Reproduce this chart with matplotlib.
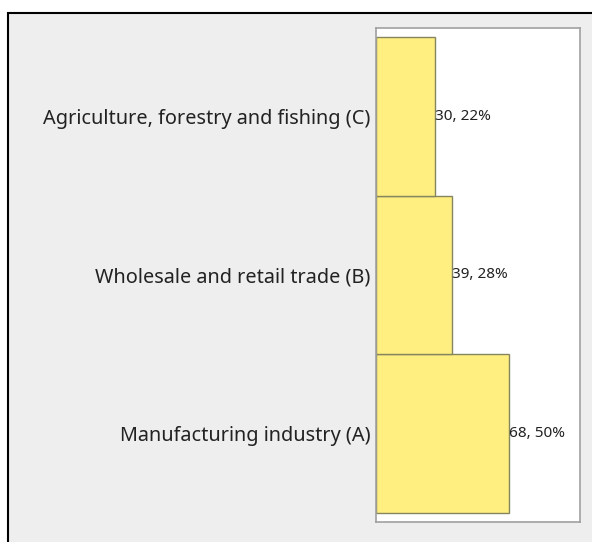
import matplotlib
matplotlib.use("Agg")
import matplotlib.pyplot as plt
from matplotlib.patches import Rectangle

categories = ["Manufacturing industry (A)", "Wholesale and retail trade (B)",
              "Agriculture, forestry and fishing (C)"]
values = [68, 39, 30]
percents = [50, 28, 22]

W, H = 592, 542
fig = plt.figure(figsize=(W / 100, H / 100), dpi=100, facecolor="white")

# gray panel with black border (top-left visible)
fig.patches.append(Rectangle((8 / W, -0.2), 1.5, 1 - 13 / H + 0.2,
                             transform=fig.transFigure, facecolor="#eeeeee",
                             edgecolor="black", linewidth=1.5, zorder=-10))

ax = fig.add_axes([376 / W, 1 - 522 / H, 204 / W, 494 / H])
ax.set_facecolor("white")
pos = list(range(len(categories)))
ax.barh(pos, values, height=1.0, color="#ffee80", edgecolor="#85855e",
        linewidth=1.0, zorder=2)
for p, v, pc in zip(pos, values, percents):
    ax.text(v, p, f"{v}, {pc}%", va="center", ha="left", fontsize=11,
            family="Noto Sans", color="#222222")
ax.set_xlim(0, 104.6)
ax.set_ylim(-0.557, 2.557)
ax.set_yticks(pos)
ax.set_yticklabels(categories, fontsize=14.3, family="Noto Sans", color="#222222")
ax.tick_params(axis="y", length=0, pad=4)
ax.set_xticks([])
for s in ax.spines.values():
    s.set_color("#a0a0a0")
    s.set_linewidth(1.2)

fig.savefig("out.png", dpi=100, facecolor=fig.get_facecolor())
